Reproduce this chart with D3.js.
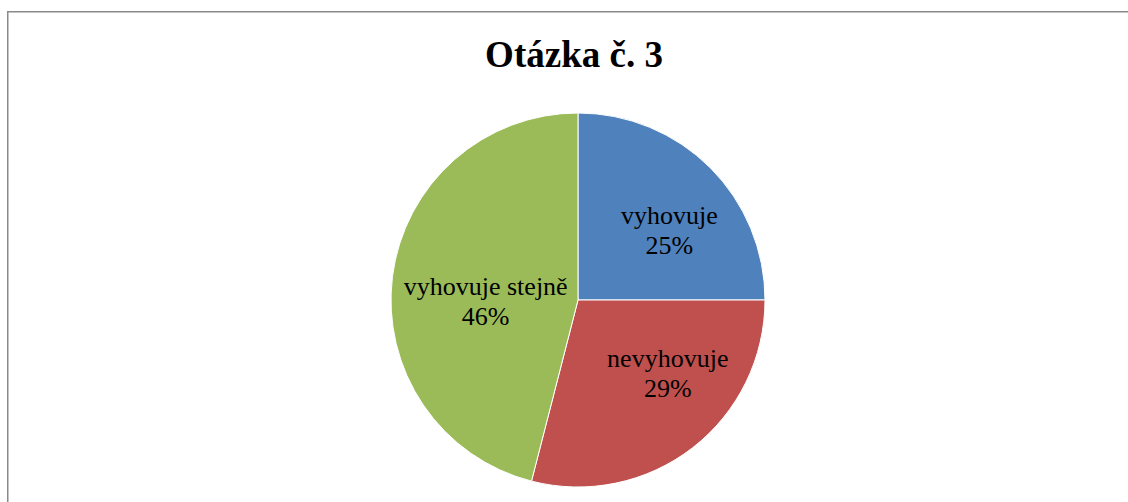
<!DOCTYPE html>
<html>
<head>
<meta charset="utf-8">
<script src="https://cdn.jsdelivr.net/npm/d3@7"></script>
<style>
  html, body { margin: 0; padding: 0; background: #fff; }
  svg { display: block; }
</style>
</head>
<body>
<svg id="chart" width="1128" height="502"></svg>
<script>
const title = "Otázka č. 3";
const categories = ["vyhovuje", "nevyhovuje", "vyhovuje stejně"];
const values = [25, 29, 46];
const colors = ["#4F81BD", "#C0504D", "#9BBB59"];

const W = 1128, H = 502;
const svg = d3.select("#chart");

// outer chart border (extends beyond the viewport on right/bottom)
svg.append("rect")
  .attr("x", 7.75).attr("y", 11.75)
  .attr("width", W + 20).attr("height", H + 20)
  .attr("fill", "#fff")
  .attr("stroke", "#8a8a8a")
  .attr("stroke-width", 1.5);

svg.append("text")
  .attr("x", 574).attr("y", 67)
  .attr("text-anchor", "middle")
  .attr("font-family", "'Liberation Serif', 'Times New Roman', serif")
  .attr("font-weight", "bold")
  .attr("font-size", 37)
  .attr("fill", "#000")
  .text(title);

const cx = 578, cy = 300, R = 187;
const g = svg.append("g").attr("transform", `translate(${cx},${cy})`);

const pie = d3.pie().sort(null).value(d => d)(values);
const arc = d3.arc().innerRadius(0).outerRadius(R);
const labelArc = d3.arc().innerRadius(R * 0.6).outerRadius(R * 0.6);
const total = d3.sum(values);

g.selectAll("path.slice")
  .data(pie)
  .join("path")
  .attr("class", "slice")
  .attr("d", arc)
  .attr("fill", (d, i) => colors[i])
  .attr("stroke", "#fff")
  .attr("stroke-width", 1);

// best-fit label nudges (layout, not data)
const nudge = [[12, 18], [21, -7], [19, 24]];

const labels = g.selectAll("g.lbl")
  .data(pie)
  .join("g")
  .attr("class", "lbl")
  .attr("transform", (d, i) => {
    const c = labelArc.centroid(d);
    return `translate(${c[0] + nudge[i][0]},${c[1] + nudge[i][1]})`;
  });

labels.append("text")
  .attr("text-anchor", "middle")
  .attr("font-family", "'Liberation Serif', 'Times New Roman', serif")
  .attr("font-size", 26)
  .attr("fill", "#000")
  .each(function(d, i) {
    const t = d3.select(this);
    t.append("tspan").attr("x", 0).attr("y", -15).text(categories[i]);
    t.append("tspan").attr("x", 0).attr("y", 15)
      .text(Math.round(d.value / total * 100) + "%");
  });
</script>
</body>
</html>
